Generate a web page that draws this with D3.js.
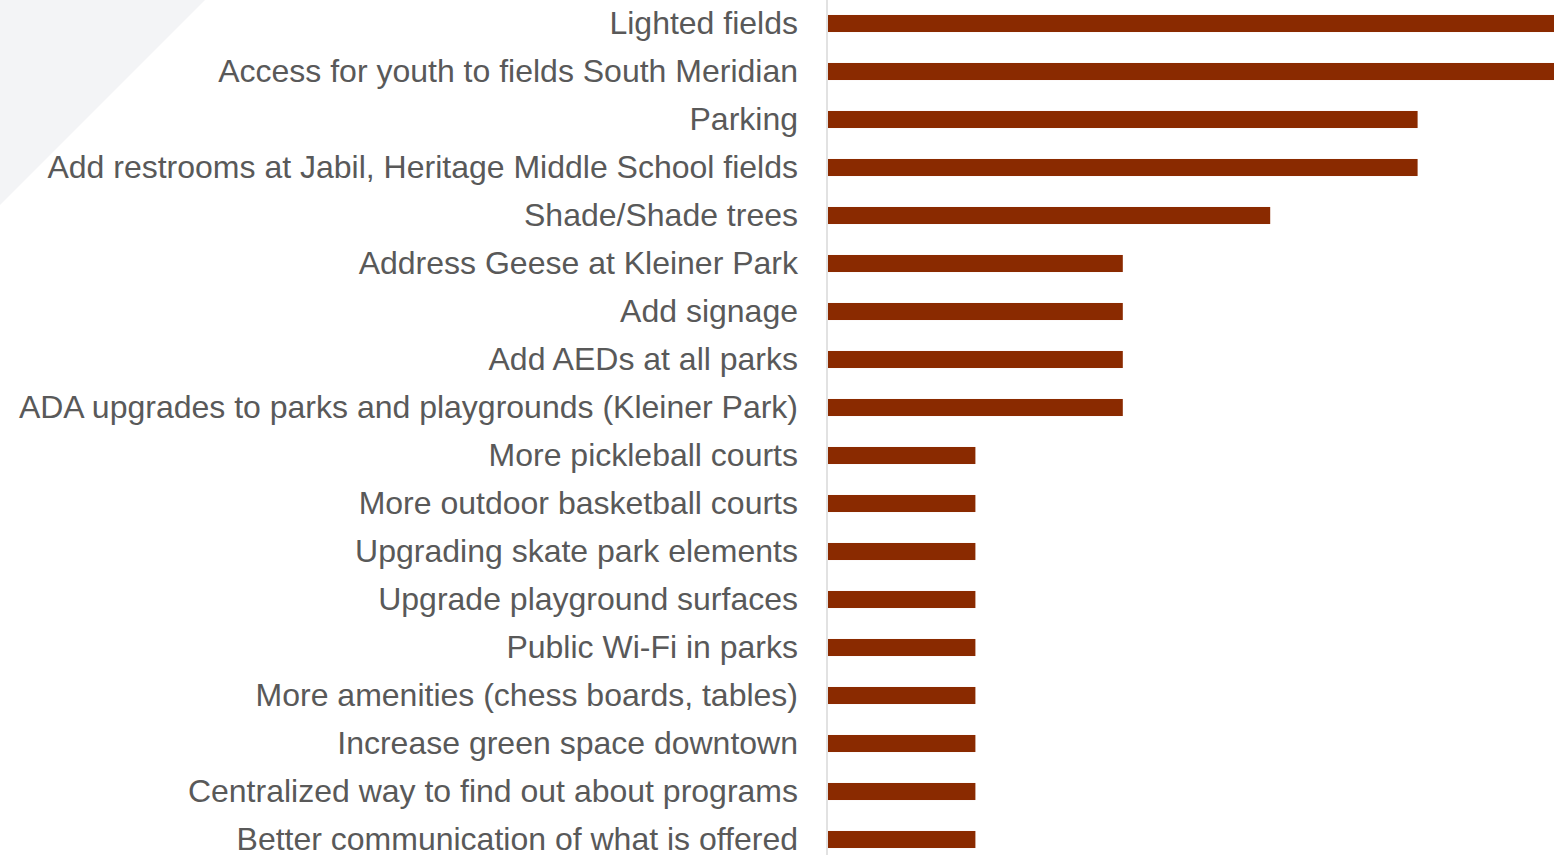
<!DOCTYPE html>
<html>
<head>
<meta charset="utf-8">
<script src="https://cdn.jsdelivr.net/npm/d3@7"></script>
<style>
  html, body { margin: 0; padding: 0; background: #ffffff; overflow: hidden; }
  svg { display: block; }
</style>
</head>
<body>
<svg id="chart" width="1554" height="855"></svg>
<script>
// Community requests for park improvements, by number of mentions
const categories = [
  "Lighted fields",
  "Access for youth to fields South Meridian",
  "Parking",
  "Add restrooms at Jabil, Heritage Middle School fields",
  "Shade/Shade trees",
  "Address Geese at Kleiner Park",
  "Add signage",
  "Add AEDs at all parks",
  "ADA upgrades to parks and playgrounds (Kleiner Park)",
  "More pickleball courts",
  "More outdoor basketball courts",
  "Upgrading skate park elements",
  "Upgrade playground surfaces",
  "Public Wi-Fi in parks",
  "More amenities (chess boards, tables)",
  "Increase green space downtown",
  "Centralized way to find out about programs",
  "Better communication of what is offered"
];
const mentions = [5, 5, 4, 4, 3, 2, 2, 2, 2, 1, 1, 1, 1, 1, 1, 1, 1, 1];

const W = 1554, H = 855;
const svg = d3.select("#chart");

// decorative corner wedge
svg.append("path")
  .attr("d", "M0,0 L205,0 L0,205 Z")
  .attr("fill", "#f3f4f6");

const axisX = 827;
const x = d3.scaleLinear().domain([0, 5]).range([axisX + 1, axisX + 1 + 5 * 147.4]);
const y = d3.scaleBand().domain(categories).range([-0.5, 863.5]).paddingInner(0.645).paddingOuter(0.3225);

// bars
svg.append("g").selectAll("rect")
  .data(categories)
  .join("rect")
  .attr("x", x(0))
  .attr("y", d => y(d))
  .attr("width", (d, i) => x(mentions[i]) - x(0))
  .attr("height", y.bandwidth())
  .attr("fill", "#8a2a00");

// category axis
const yAxis = d3.axisLeft(y).tickSize(0).tickPadding(29);
const gAxis = svg.append("g")
  .attr("transform", `translate(${axisX},0)`)
  .call(yAxis);
gAxis.select(".domain").remove();
gAxis.selectAll("text")
  .attr("font-family", "'Liberation Sans', Arial, sans-serif")
  .attr("font-size", 32)
  .attr("fill", "#595959")
  .attr("dy", "0.34em");

svg.append("line")
  .attr("x1", axisX).attr("x2", axisX)
  .attr("y1", 0).attr("y2", H)
  .attr("stroke", "#d9d9d9")
  .attr("stroke-width", 1.5);
</script>
</body>
</html>
